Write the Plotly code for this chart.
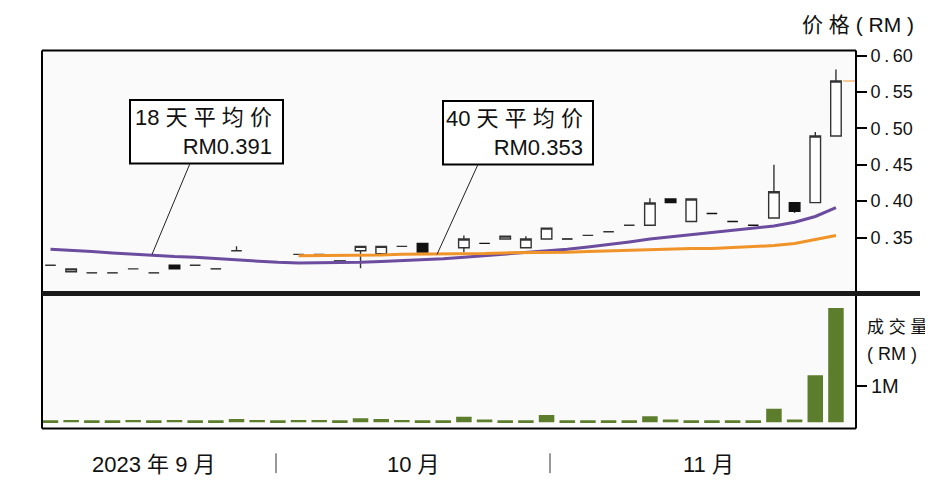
import plotly.graph_objects as go

# daily candles, Sep - Nov 2023 (RM)
days = list(range(39))
opens = [0.312, 0.303, 0.3015, 0.3015, 0.307, 0.3015, 0.312, 0.312, 0.307, 0.332,
         0.318, 0.316, 0.327, 0.327, 0.318, 0.332, 0.328, 0.338, 0.342, 0.327,
         0.336, 0.342, 0.348, 0.336, 0.348, 0.348, 0.353, 0.358, 0.367, 0.367,
         0.403, 0.372, 0.383, 0.372, 0.367, 0.377, 0.398, 0.398, 0.4895]
highs = [0.312, 0.307, 0.3015, 0.3015, 0.307, 0.3015, 0.312, 0.312, 0.307, 0.338,
         0.318, 0.316, 0.327, 0.327, 0.318, 0.338, 0.338, 0.338, 0.342, 0.327,
         0.353, 0.342, 0.352, 0.352, 0.363, 0.348, 0.353, 0.358, 0.367, 0.404,
         0.403, 0.403, 0.383, 0.372, 0.367, 0.450, 0.398, 0.495, 0.581]
lows = [0.312, 0.303, 0.3015, 0.3015, 0.307, 0.3015, 0.307, 0.312, 0.307, 0.332,
        0.318, 0.316, 0.327, 0.327, 0.316, 0.308, 0.328, 0.338, 0.330, 0.327,
        0.330, 0.342, 0.348, 0.336, 0.348, 0.348, 0.353, 0.358, 0.367, 0.367,
        0.398, 0.372, 0.383, 0.372, 0.367, 0.377, 0.384, 0.398, 0.4895]
closes = [0.312, 0.307, 0.3015, 0.3015, 0.307, 0.3015, 0.307, 0.312, 0.307, 0.332,
          0.318, 0.316, 0.327, 0.327, 0.316, 0.338, 0.338, 0.338, 0.330, 0.327,
          0.348, 0.342, 0.352, 0.348, 0.363, 0.348, 0.353, 0.358, 0.367, 0.3975,
          0.398, 0.403, 0.383, 0.372, 0.367, 0.413, 0.386, 0.4895, 0.565]

# moving averages
ma18 = [0.334, 0.333, 0.331, 0.329, 0.327, 0.326, 0.324, 0.323, 0.321, 0.320,
        0.318, 0.316, 0.315, 0.315, 0.315, 0.316, 0.317, 0.318, 0.319, 0.321,
        0.323, 0.325, 0.327, 0.329, 0.331, 0.334, 0.337, 0.340, 0.344, 0.348,
        0.351, 0.354, 0.357, 0.359, 0.362, 0.366, 0.371, 0.379, 0.391]
ma40_days = list(range(12, 39))
ma40 = [0.325, 0.325, 0.326, 0.326, 0.326, 0.327, 0.327, 0.327, 0.328, 0.328,
        0.329, 0.329, 0.330, 0.330, 0.331, 0.332, 0.332, 0.333, 0.334, 0.335,
        0.335, 0.336, 0.337, 0.339, 0.342, 0.347, 0.353]

# turnover, RM million
volume = [0.05, 0.06, 0.05, 0.05, 0.06, 0.05, 0.06, 0.05, 0.05, 0.09,
          0.06, 0.05, 0.06, 0.06, 0.05, 0.11, 0.09, 0.06, 0.05, 0.05,
          0.15, 0.07, 0.05, 0.05, 0.20, 0.05, 0.05, 0.05, 0.05, 0.16,
          0.07, 0.05, 0.05, 0.05, 0.05, 0.37, 0.07, 1.30, 3.16]

price_ticks = [0.35, 0.40, 0.45, 0.50, 0.55, 0.60]
price_labels = ["0\u2009.\u200935", "0\u2009.\u200940", "0\u2009.\u200945",
                "0\u2009.\u200950", "0\u2009.\u200955", "0\u2009.\u200960"]
month_labels = ["2023 年 9 月", "10 月", "11 月"]

# the page puts the plot 8px in from the top-left corner
OFF = 8
W, H = 933 - OFF, 482 - OFF
FONT = "Liberation Sans, Noto Sans CJK SC"
NARROW = "Liberation Sans Narrow, Liberation Sans, Noto Sans CJK SC"


def px(x):
    return (x - OFF) / W


def py(y):
    return 1 - (y - OFF) / H


fig = go.Figure()

fig.add_trace(go.Candlestick(
    x=days, open=opens, high=highs, low=lows, close=closes,
    increasing=dict(line=dict(color="#333333", width=1.4), fillcolor="#fdfdfd"),
    decreasing=dict(line=dict(color="#111111", width=1.4), fillcolor="#111111"),
    showlegend=False, xaxis="x", yaxis="y"
))
fig.add_trace(go.Scatter(
    x=days, y=ma18, mode="lines", line=dict(color="#6b4c9e", width=3),
    showlegend=False, xaxis="x", yaxis="y"
))
fig.add_trace(go.Scatter(
    x=ma40_days, y=ma40, mode="lines", line=dict(color="#f09328", width=3),
    showlegend=False, xaxis="x", yaxis="y"
))
# last price marker
fig.add_trace(go.Scatter(
    x=[days[-1] + 0.35, days[-1] + 0.95], y=[closes[-1], closes[-1]], mode="lines",
    line=dict(color="#f3b870", width=1.5), showlegend=False, xaxis="x", yaxis="y"
))

fig.add_trace(go.Bar(
    x=days, y=volume, marker=dict(color="#5c7d2b", line=dict(width=0)),
    showlegend=False, xaxis="x2", yaxis="y2"
))

xr = [-0.41, 38.97]
xdom = [px(42), px(856)]

shapes = []
line_k = dict(color="black", width=2)
# frames
shapes.append(dict(type="line", xref="paper", yref="paper", x0=px(42), x1=px(856),
                   y0=py(46), y1=py(46), line=line_k))
shapes.append(dict(type="line", xref="paper", yref="paper", x0=px(42), x1=px(42),
                   y0=py(46), y1=py(428), line=line_k))
shapes.append(dict(type="line", xref="paper", yref="paper", x0=px(856), x1=px(856),
                   y0=py(46), y1=py(428), line=line_k))
shapes.append(dict(type="line", xref="paper", yref="paper", x0=px(42), x1=px(856),
                   y0=py(428), y1=py(428), line=line_k))
shapes.append(dict(type="line", xref="paper", yref="paper", x0=px(42), x1=px(920),
                   y0=py(291.5), y1=py(291.5), line=dict(color="#1a1a1a", width=5)))
# annotation boxes and leaders
shapes.append(dict(type="rect", xref="paper", yref="paper", x0=px(130), x1=px(283),
                   y0=py(160), y1=py(96), line=line_k, fillcolor="white", layer="above"))
shapes.append(dict(type="rect", xref="paper", yref="paper", x0=px(443), x1=px(593),
                   y0=py(161), y1=py(97), line=line_k, fillcolor="white", layer="above"))
shapes.append(dict(type="line", xref="paper", yref="paper", x0=px(190), x1=px(152),
                   y0=py(160), y1=py(252), line=dict(color="#222", width=1)))
shapes.append(dict(type="line", xref="paper", yref="paper", x0=px(478), x1=px(437),
                   y0=py(161), y1=py(252), line=dict(color="#222", width=1)))
# month separators
for sx in [276, 550]:
    shapes.append(dict(type="line", xref="paper", yref="paper", x0=px(sx), x1=px(sx),
                       y0=py(453), y1=py(473), line=dict(color="#333", width=1)))

annotations = [
    dict(text="18 天 平 均 价<br>RM0.391", x=px(274), y=py(128), xanchor="right",
         yanchor="middle", align="right", font=dict(family=FONT, size=22, color="#111")),
    dict(text="40 天 平 均 价<br>RM0.353", x=px(585), y=py(129), xanchor="right",
         yanchor="middle", align="right", font=dict(family=FONT, size=22, color="#111")),
    dict(text="价 格 ( RM )", x=px(916), y=py(20), xanchor="right", yanchor="middle",
         font=dict(family=FONT, size=21, color="#111")),
    dict(text="成 交 量", x=px(865), y=py(326), xanchor="left", yanchor="middle",
         font=dict(family=FONT, size=17, color="#111")),
    dict(text="( RM )", x=px(865), y=py(353), xanchor="left", yanchor="middle",
         font=dict(family=FONT, size=18, color="#111")),
]
for lab, cx in zip(month_labels, [154, 413, 708]):
    annotations.append(dict(text=lab, x=px(cx), y=py(464), xanchor="center",
                            yanchor="middle",
                            font=dict(family=NARROW, size=22, color="#111")))
for a in annotations:
    a.update(xref="paper", yref="paper", showarrow=False)

fig.update_layout(
    width=W, height=H,
    margin=dict(l=0, r=0, t=0, b=0),
    paper_bgcolor="white",
    plot_bgcolor="#fafafa",
    bargap=0.25,
    boxgap=0.27,
    xaxis=dict(domain=xdom, range=xr, anchor="y", showticklabels=False,
               showgrid=False, zeroline=False, rangeslider=dict(visible=False)),
    xaxis2=dict(domain=xdom, range=xr, anchor="y2", matches="x", showticklabels=False,
                showgrid=False, zeroline=False),
    yaxis=dict(domain=[py(289), py(46)], range=[0.2766, 0.6068], side="right",
               tickvals=price_ticks, ticktext=price_labels, ticks="outside",
               ticklen=10, tickwidth=1.5, tickcolor="black", showgrid=False,
               zeroline=False, tickfont=dict(family=FONT, size=18, color="#111")),
    yaxis2=dict(domain=[py(428), py(294)], range=[-0.178, 3.49], side="right",
                tickvals=[1], ticktext=["1M"], ticks="outside", ticklen=10,
                tickwidth=1.5, tickcolor="black", showgrid=False, zeroline=False,
                tickfont=dict(family=NARROW, size=20, color="#111")),
    shapes=shapes,
    annotations=annotations,
)

fig.write_html("out.html")
